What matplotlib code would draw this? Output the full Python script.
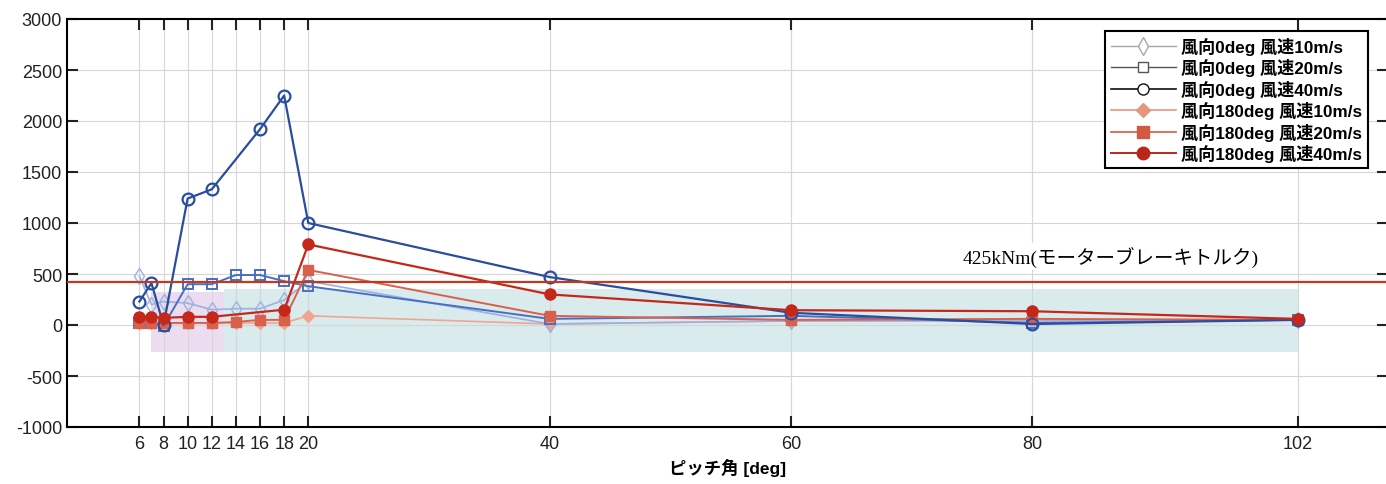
import matplotlib
matplotlib.use("Agg")
import matplotlib.pyplot as plt
from matplotlib.lines import Line2D
from matplotlib.patches import Rectangle

plt.rcParams['font.family'] = ['Liberation Sans', 'Noto Sans CJK JP', 'DejaVu Sans']
plt.rcParams['axes.unicode_minus'] = False

# pitch angle [deg]
x_all = [6, 7, 8, 10, 12, 14, 16, 18, 20, 40, 60, 80, 102]
x_c = [6, 7, 8, 10, 12, 16, 18, 20, 40, 60, 80, 102]
x_f = [6, 7, 8, 10, 12, 18, 20, 40, 60, 80, 102]

# torque values
dir0_ws10 = [480, 200, 230, 215, 150, 160, 160, 245, 430, 10, 40, 40, 50]
dir0_ws20 = [20, 20, -10, 400, 400, 490, 490, 430, 380, 60, 90, 20, 50]
dir0_ws40 = [230, 410, 0, 1240, 1330, 1920, 2250, 1000, 470, 120, 10, 50]
dir180_ws10 = [20, 20, 20, 20, 20, 20, 20, 20, 90, 10, 40, 50, 50]
dir180_ws20 = [20, 20, 20, 20, 20, 30, 50, 50, 540, 90, 50, 60, 50]
dir180_ws40 = [80, 80, 70, 80, 80, 150, 790, 300, 145, 135, 60]

labels = ["風向0deg 風速10m/s", "風向0deg 風速20m/s", "風向0deg 風速40m/s",
          "風向180deg 風速10m/s", "風向180deg 風速20m/s", "風向180deg 風速40m/s"]

xticks = [6, 8, 10, 12, 14, 16, 18, 20, 40, 60, 80, 102]
yticks = [-1000, -500, 0, 500, 1000, 1500, 2000, 2500, 3000]
brake = 425


def main():
    fig = plt.figure(figsize=(13.86, 4.85), dpi=100)
    ax = fig.add_axes([67 / 1386, 57 / 485, (1388 - 67) / 1386, 408 / 485])

    # shaded bands
    ax.add_patch(Rectangle((7, -265), 6, 585, facecolor='#ecdcf0', edgecolor='none', zorder=0))
    ax.add_patch(Rectangle((13, -265), 89, 615, facecolor='#d9ebed', edgecolor='none', zorder=0))

    ax.plot(x_all, dir180_ws10, '-D', color='#eea690', mfc='#eea690', mec='#eea690', ms=6, lw=1.2, zorder=3)
    ax.plot(x_all, dir0_ws10, '-d', color='#9db0e2', mfc='none', mec='#9db0e2', ms=8, lw=1.2, zorder=3)
    ax.plot(x_all, dir0_ws20, '-s', color='#4a6fc2', mfc='none', mec='#4a6fc2', ms=7, mew=1.4, lw=1.4, zorder=4)
    ax.plot(x_all, dir180_ws20, '-s', color='#d9614b', mfc='#d9614b', mec='#d9614b', ms=7, lw=1.4, zorder=4)
    ax.plot(x_c, dir0_ws40, '-o', color='#2b4d9e', mfc='none', mec='#2b4d9e', ms=8.5, mew=1.6, lw=1.6, zorder=5)
    ax.plot(x_f, dir180_ws40, '-o', color='#c5281a', mfc='#c5281a', mec='#c5281a', ms=8, lw=1.6, zorder=6)

    ax.axhline(brake, color='#c03a1e', lw=1.6, zorder=7)
    ax.text(86.5, 670, "425kNm(モーターブレーキトルク)", ha='center', va='center', fontsize=14,
            family=['Liberation Serif', 'Noto Sans CJK JP'],
            bbox=dict(facecolor='white', edgecolor='none', pad=2), zorder=2)

    ax.set_xlim(0, 109.5)
    ax.set_ylim(-1000, 3000)
    ax.set_xticks(xticks)
    ax.set_yticks(yticks)
    ax.grid(True, color='#d6d6d6', lw=0.8)
    ax.set_axisbelow(True)
    ax.tick_params(direction='in', length=8, width=1.5, labelsize=13, colors='#222222',
                   top=True, right=True, labeltop=False, labelright=False)
    ax.tick_params(axis='x', pad=6)
    for s in ax.spines.values():
        s.set_linewidth(1.5)
    ax.set_xlabel("ピッチ角 [deg]", fontsize=12.5, fontweight='bold', labelpad=4)

    handles = [
        Line2D([], [], color='#a8a8a8', marker='d', mfc='white', mec='#a8a8a8', ms=9, lw=1),
        Line2D([], [], color='#555555', marker='s', mfc='white', mec='#555555', ms=7, lw=1),
        Line2D([], [], color='#111111', marker='o', mfc='white', mec='#111111', ms=8, lw=1.2),
        Line2D([], [], color='#e8957e', marker='D', mfc='#e8957e', mec='#e8957e', ms=7, lw=1.2),
        Line2D([], [], color='#d25a44', marker='s', mfc='#d25a44', mec='#d25a44', ms=8, lw=1.2),
        Line2D([], [], color='#b8281a', marker='o', mfc='#b8281a', mec='#b8281a', ms=9, lw=1.4),
    ]
    leg = ax.legend(handles, labels, loc='upper right', bbox_to_anchor=(0.985, 0.9706),
                    borderaxespad=0, prop={'size': 12.3, 'weight': 'bold'}, handlelength=3.8,
                    labelspacing=0.2, borderpad=0.35, handletextpad=0.3,
                    fancybox=False, framealpha=1, edgecolor='black')
    leg.get_frame().set_linewidth(1.5)

    fig.savefig("out.png", dpi=100)


if __name__ == "__main__":
    main()
